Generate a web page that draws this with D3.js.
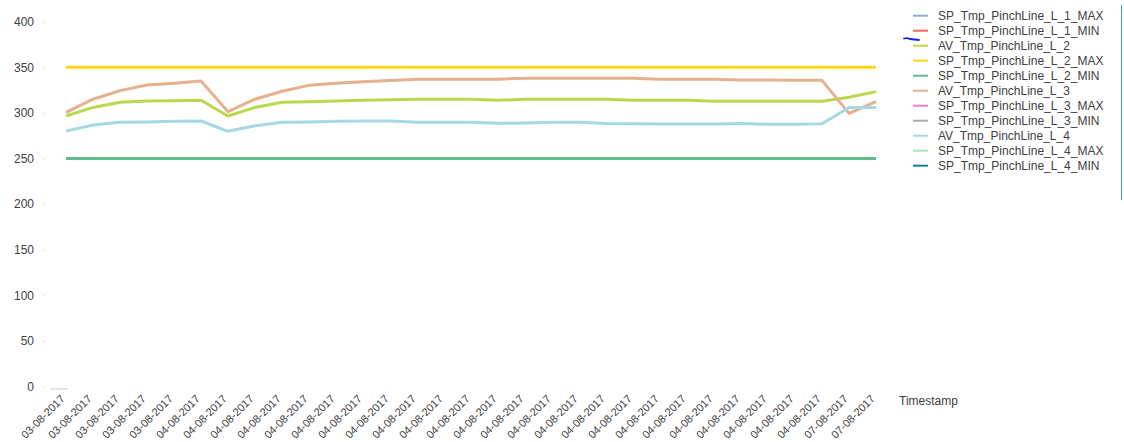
<!DOCTYPE html>
<html><head><meta charset="utf-8">
<script src="https://cdn.jsdelivr.net/npm/d3@7"></script>
<style>
body{margin:0;background:#fff;}
text{font-family:"Liberation Sans",Arial,sans-serif;}
</style>
</head><body>
<svg id="chart" width="1124" height="442"></svg>
<script>
// ---- data ----
const dates = [
  "03-08-2017","03-08-2017","03-08-2017","03-08-2017","03-08-2017",
  "04-08-2017","04-08-2017","04-08-2017","04-08-2017","04-08-2017","04-08-2017",
  "04-08-2017","04-08-2017","04-08-2017","04-08-2017","04-08-2017","04-08-2017",
  "04-08-2017","04-08-2017","04-08-2017","04-08-2017","04-08-2017","04-08-2017",
  "04-08-2017","04-08-2017","04-08-2017","04-08-2017","04-08-2017","04-08-2017",
  "07-08-2017","07-08-2017"
];
const seriesNames = [
  "SP_Tmp_PinchLine_L_1_MAX","SP_Tmp_PinchLine_L_1_MIN","AV_Tmp_PinchLine_L_2",
  "SP_Tmp_PinchLine_L_2_MAX","SP_Tmp_PinchLine_L_2_MIN","AV_Tmp_PinchLine_L_3",
  "SP_Tmp_PinchLine_L_3_MAX","SP_Tmp_PinchLine_L_3_MIN","AV_Tmp_PinchLine_L_4",
  "SP_Tmp_PinchLine_L_4_MAX","SP_Tmp_PinchLine_L_4_MIN"
];
const seriesColors = [
  "#8bb0d8","#f4695b","#bad84c","#fcd718","#5cbd8b","#e6b18f",
  "#e086d0","#ababab","#a4d9e6","#a8e7bf","#1a7a95"
];
const spL1Max = [];
const spL1Min = [];
const avL2 = [296.6,306,311.6,313,313.4,313.8,296.6,306,311.6,312.3,313,313.8,314.5,
  315,315,315,313.8,315,315,315,315,313.8,313.8,313.8,312.7,312.7,312.7,312.7,312.7,317.1,323.3];
const spL2Max = [350,350,350,350,350,350,350,350,350,350,350,350,350,350,350,350,
  350,350,350,350,350,350,350,350,350,350,350,350,350,350,350];
const spL2Min = [250,250,250,250,250,250,250,250,250,250,250,250,250,250,250,250,
  250,250,250,250,250,250,250,250,250,250,250,250,250,250,250];
const avL3 = [300.6,315,324.4,330.6,332.5,335,301.3,315,323.7,330.2,332.5,334.2,335.4,
  336.8,337,337,337,338,338,337.9,337.9,337.9,336.8,336.8,336.8,336,336,335.7,335.7,299.5,312.3];
const spL3Max = [];
const spL3Min = [];
const avL4 = [280,286.7,289.7,290,290.8,291.1,279.8,286,289.7,290,290.8,291.1,291,
  289.7,289.7,289.7,288.6,289,289.7,289.7,288.5,288.2,287.8,287.8,287.8,288.4,287.5,287.5,288.2,306,306];
const spL4Max = [];
const spL4Min = [];
const yTicks = [0,50,100,150,200,250,300,350,400];
const xTitle = "Timestamp";

const seriesValues = [spL1Max,spL1Min,avL2,spL2Max,spL2Min,avL3,spL3Max,spL3Min,avL4,spL4Max,spL4Min];

// ---- drawing ----
const svg = d3.select("#chart");
const x = d3.scalePoint().domain(d3.range(dates.length)).range([66, 876]);
const y = d3.scaleLinear().domain([0, 400]).range([386.5, 21.7]);

// y axis
const ya = svg.append("g").attr("transform","translate(45,0)")
  .call(d3.axisLeft(y).tickValues(yTicks).tickSize(1).tickPadding(10));
ya.select(".domain").remove();
ya.selectAll(".tick line").attr("stroke","#c8c8c8");
ya.selectAll(".tick text").attr("fill","#404040").style("font-size","12px")
  .style("font-family","'Liberation Sans',Arial,sans-serif");

// x axis labels
const xa = svg.append("g").attr("transform","translate(0,386.5)")
  .call(d3.axisBottom(x).tickSize(0).tickFormat(i => dates[i]));
xa.select(".domain").remove();
xa.selectAll(".tick text")
  .attr("fill","#404040").style("font-size","11px")
  .style("font-family","'Liberation Sans',Arial,sans-serif")
  .attr("text-anchor","end")
  .attr("x", 0).attr("y", 0).attr("dy", 0)
  .attr("transform","translate(-1,13) rotate(-45)");

svg.append("text").attr("x",899).attr("y",405).attr("fill","#404040")
  .style("font-size","12px").text(xTitle);

// small scrollbar thumb near origin
svg.append("line").attr("x1",50).attr("x2",68).attr("y1",389).attr("y2",389)
  .attr("stroke","#dcdcdc").attr("stroke-width",1.5);

// lines
const line = d3.line().x((d,i)=>x(i)).y(d=>y(d));
seriesValues.forEach((vals, k) => {
  if (!vals.length) return;
  svg.append("path").datum(vals).attr("d", line)
    .attr("fill","none").attr("stroke", seriesColors[k])
    .attr("stroke-width", 3).attr("stroke-linejoin","round");
});

// legend
const lg = svg.append("g");
seriesNames.forEach((n, k) => {
  const yy = 15.7 + k * 15;
  lg.append("line").attr("x1",913).attr("x2",928).attr("y1",yy).attr("y2",yy)
    .attr("stroke", seriesColors[k]).attr("stroke-width",2);
  lg.append("text").attr("x",938).attr("y",yy).attr("dy","0.36em")
    .attr("fill","#404040").style("font-size","12px").text(n);
});
// legend scroll indicator
svg.append("line").attr("x1",1121.5).attr("x2",1121.5).attr("y1",5).attr("y2",200)
  .attr("stroke","#3a9fd6").attr("stroke-width",1);

// hand-drawn annotation mark
svg.append("path").attr("d","M904,38.5 Q907,37.5 910,39 L919,40")
  .attr("fill","none").attr("stroke","#1020e0").attr("stroke-width",1.8)
  .attr("stroke-linecap","round");
</script>
</body></html>
